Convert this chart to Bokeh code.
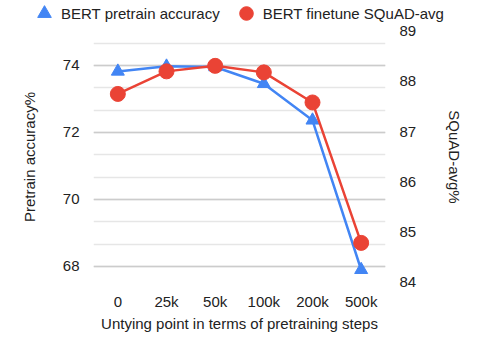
from bokeh.plotting import figure
from bokeh.layouts import column
from bokeh.models import FactorRange, Range1d, LinearAxis, FixedTicker, Legend, LegendItem
from bokeh.embed import file_html
from bokeh.resources import INLINE

steps = ["0", "25k", "50k", "100k", "200k", "500k"]
pretrain_acc = [73.82, 73.97, 73.95, 73.45, 72.36, 67.9]
squad_avg = [87.75, 88.2, 88.31, 88.18, 87.58, 84.78]
left_major = [68, 70, 72, 74]
left_minor = [68 + 2 * i / 3 for i in range(11)]
right_ticks = [84, 85, 86, 87, 88, 89]
series_names = ["BERT pretrain accuracy", "BERT finetune SQuAD-avg"]

BLUE = "#4285F4"
RED = "#EA4335"
TXT = "#222222"
FONT = "Liberation Sans"
FS = "15px"

# ---- legend strip (its glyphs fall outside this strip's range; only the legend shows) ----
leg = figure(width=479, height=22, x_range=FactorRange(*steps), y_range=Range1d(0, 1),
             output_backend="svg", toolbar_location=None,
             x_axis_location=None, y_axis_location=None, min_border=0)
leg.frame_align = False
leg.outline_line_color = None
leg.grid.visible = False
r1 = leg.scatter(steps, pretrain_acc, marker="triangle", size=13, color=BLUE)
r2 = leg.scatter(steps, squad_avg, marker="circle", size=15, color=RED)
lg = Legend(items=[LegendItem(label=series_names[0], renderers=[r1]),
                   LegendItem(label=series_names[1], renderers=[r2])])
lg.orientation = "horizontal"
lg.location = (27, -10)
lg.padding = 0
lg.margin = 0
lg.spacing = 9
lg.label_standoff = 0
lg.glyph_width = 34
lg.glyph_height = 38
lg.label_text_font = FONT
lg.label_text_font_size = FS
lg.label_text_color = TXT
lg.background_fill_alpha = 0
lg.border_line_color = None
leg.add_layout(lg)

# ---- main chart ----
p = figure(width=479, height=318, x_range=FactorRange(*steps),
           y_range=Range1d(67.49, 75.04), output_backend="svg",
           toolbar_location=None, min_border_left=93, min_border_right=94,
           min_border_top=8, min_border_bottom=57)
p.frame_align = False
p.outline_line_color = None
p.extra_y_ranges = {"r": Range1d(83.97, 89.015)}

p.line(steps, pretrain_acc, line_color=BLUE, line_width=2.5)
p.scatter(steps, pretrain_acc, marker="triangle", size=13, color=BLUE)
p.line(steps, squad_avg, line_color=RED, line_width=2.5, y_range_name="r")
p.scatter(steps, squad_avg, marker="circle", size=15, color=RED,
          y_range_name="r")

ax_r = LinearAxis(y_range_name="r", ticker=FixedTicker(ticks=right_ticks),
                  axis_label="SQuAD-avg%")
p.add_layout(ax_r, "right")

p.yaxis[0].ticker = FixedTicker(ticks=left_major, minor_ticks=left_minor)
p.yaxis[0].axis_label = "Pretrain accuracy%"
p.xaxis.axis_label = "Untying point in terms of pretraining steps"

for ax in p.xaxis + p.yaxis:
    ax.axis_line_color = None
    ax.major_tick_line_color = None
    ax.minor_tick_line_color = None
    ax.major_label_text_font = FONT
    ax.major_label_text_font_size = FS
    ax.major_label_text_color = TXT
    ax.axis_label_text_font = FONT
    ax.axis_label_text_font_size = FS
    ax.axis_label_text_font_style = "normal"
    ax.axis_label_text_color = TXT
    ax.major_label_standoff = 8

p.yaxis[0].axis_label_standoff = 22
ax_r.axis_label_standoff = 27
ax_r.axis_label_orientation = "vertical"
p.xaxis.major_label_standoff = 3
p.xaxis.axis_label_standoff = 2

p.xgrid.grid_line_color = None
p.ygrid.grid_line_color = "#cccccc"
p.ygrid.grid_line_width = 1.5
p.ygrid.minor_grid_line_color = "#e6e6e6"
p.ygrid.minor_grid_line_width = 1.5

layout = column(leg, p, spacing=0)
open("out.html", "w").write(file_html(layout, INLINE))
